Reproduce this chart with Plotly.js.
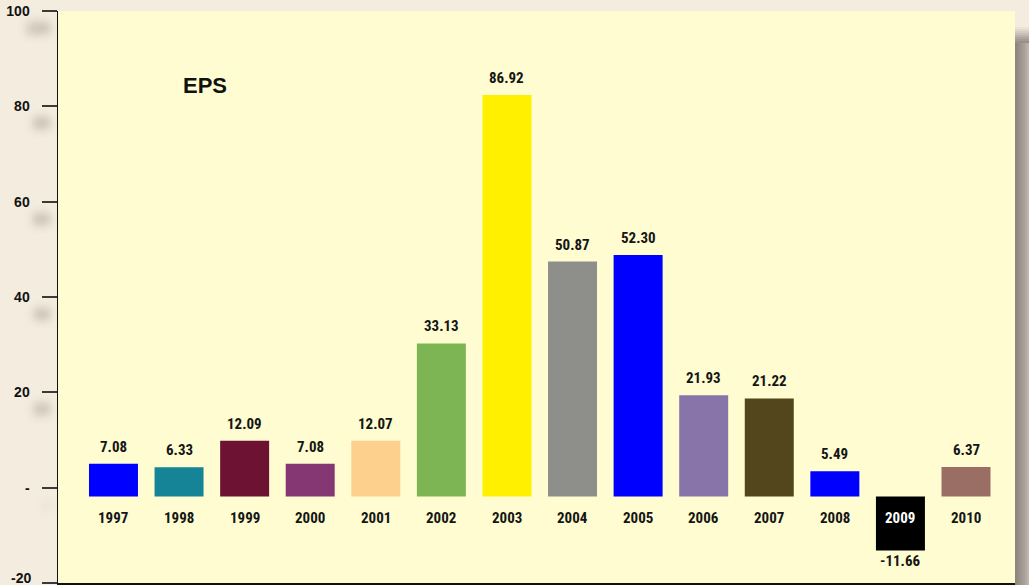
<!DOCTYPE html>
<html>
<head>
<meta charset="utf-8">
<script src="https://cdn.plot.ly/plotly-3.0.1.min.js"></script>
<style>html,body{margin:0;padding:0;background:#f3ecdf;}#chart{width:1029px;height:585px;}</style>
</head>
<body>
<div id="chart"></div>
<script>
// ---- data ----
var years = ['1997','1998','1999','2000','2001','2002','2003','2004','2005','2006','2007','2008','2009','2010'];
var eps = [7.08, 6.33, 12.09, 7.08, 12.07, 33.13, 86.92, 50.87, 52.30, 21.93, 21.22, 5.49, -11.66, 6.37];
var barColors = ['#0000ff','#148496','#6d1233','#853774','#fdd08e','#7eb554','#fff000','#8e8f8a','#0000ff','#8874a8','#54461c','#0000ff','#000000','#9a6e65'];
var yTickVals = [-20, 0, 20, 40, 60, 80, 100];
var yTickText = ['-20', '-', '20', '40', '60', '80', '100'];
var chartTitle = 'EPS';

var narrow = '"Roboto Condensed", "Arial Narrow", "DejaVu Sans Condensed", sans-serif';
var bold = 'Arial, "Liberation Sans", sans-serif';

var trace = {
  type: 'bar',
  x: years,
  y: eps,
  xaxis: 'x',
  yaxis: 'y2',
  marker: {color: barColors, line: {width: 0}},
  hoverinfo: 'x+y'
};
// invisible trace to keep the primary y-axis active
var axisTrace = {
  type: 'scatter', x: [years[0]], y: [0], xaxis: 'x', yaxis: 'y',
  mode: 'markers', marker: {opacity: 0}, hoverinfo: 'skip', showlegend: false
};

var annotations = [];
for (var i = 0; i < years.length; i++) {
  var v = eps[i];
  // category axis: use the category index as x position
  annotations.push({
    x: i, y: v, xref: 'x', yref: 'y2',
    text: v.toFixed(2), showarrow: false,
    yanchor: 'middle', yshift: v >= 0 ? 17 : -11,
    font: {family: narrow, size: 15, color: '#151515', weight: 'bold'}
  });
  annotations.push({
    x: i, y: 0, xref: 'x', yref: 'y2',
    text: years[i], showarrow: false,
    yanchor: 'middle', yshift: -21.5,
    font: {family: narrow, size: 15, color: v < 0 ? '#ffffff' : '#151515', weight: 'bold'}
  });
}
// lowest tick label sits slightly above its tick (it would otherwise be cut at the page edge)
var tickTextShown = yTickText.slice();
tickTextShown[0] = '';
annotations.push({
  x: 0, y: yTickVals[0], xref: 'paper', yref: 'y',
  text: yTickText[0], showarrow: false,
  xanchor: 'right', yanchor: 'middle', xshift: -25, yshift: 5,
  font: {family: bold, size: 14, color: '#111111', weight: 'bold'}
});

// drop shadow on the right of the plot area
var shapes = [];
var shadeCols = ['#8d8680','#938c85','#9a928b','#a19992','#a9a199','#b2aaa1','#bdb5ab'];
for (var k = 0; k < shadeCols.length; k++) {
  shapes.push({
    type: 'rect', xref: 'paper', yref: 'paper', layer: 'above',
    x0: 1 + (k * 2) / 957, x1: 1 + (k * 2 + 2) / 957,
    y0: -0.01, y1: 1 - 32 / 572,
    fillcolor: shadeCols[k], line: {width: 0}
  });
}
var topFade = ['#ebe4d8','#e1d9ce','#d5cdc3','#c9c1b7','#bbb3aa','#aea69e','#a29a93','#978f89'];
for (var m = 0; m < topFade.length; m++) {
  shapes.push({
    type: 'rect', xref: 'paper', yref: 'paper', layer: 'above',
    x0: 1, x1: 1 + 14 / 957,
    y0: 1 - (16 + m * 2 + 2) / 572, y1: 1 - (16 + m * 2) / 572,
    fillcolor: topFade[m], line: {width: 0}
  });
}

var layout = {
  width: 1029, height: 585,
  paper_bgcolor: '#f3ecdf',
  plot_bgcolor: '#fefcd0',
  margin: {l: 58, r: 14, t: 11, b: 2, pad: 0},
  showlegend: false,
  title: {
    text: chartTitle, xref: 'container', yref: 'container',
    x: 183 / 1029, xanchor: 'left', y: 1 - 85 / 585, yanchor: 'middle',
    font: {family: bold, size: 22, color: '#111111', weight: 'bold'}
  },
  xaxis: {
    type: 'category', range: [-0.846, 13.747],
    showticklabels: false, ticks: '', showgrid: false, zeroline: false,
    showline: true, linecolor: '#111111', linewidth: 2, mirror: false,
    fixedrange: true
  },
  yaxis: {
    range: [-20, 100], tickvals: yTickVals, ticktext: tickTextShown,
    ticks: 'outside', ticklen: 15, tickwidth: 2, tickcolor: '#3a3a3a',
    ticklabelstandoff: 9, ticklabeloverflow: 'allow',
    showline: true, linecolor: '#111111', linewidth: 1.5,
    showgrid: false, zeroline: false,
    tickfont: {family: bold, size: 14, color: '#111111', weight: 'bold',
               shadow: '20px 17px 10px rgba(110,98,86,0.7)'},
    fixedrange: true
  },
  yaxis2: {
    overlaying: 'y', range: [-18.72, 105.09], visible: false,
    showgrid: false, zeroline: false, fixedrange: true
  },
  bargap: 0.253,
  annotations: annotations,
  shapes: shapes
};

Plotly.newPlot('chart', [axisTrace, trace], layout, {displayModeBar: false, staticPlot: true});
</script>
</body>
</html>
